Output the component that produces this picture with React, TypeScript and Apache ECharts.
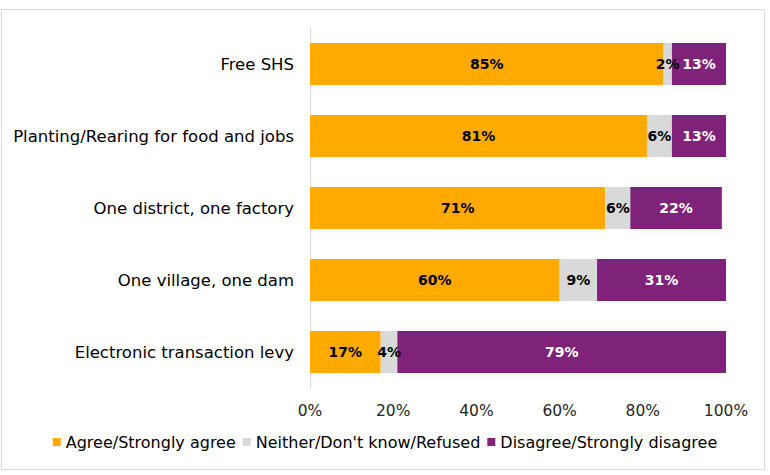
import React, { useEffect, useRef } from "react";
import * as echarts from "echarts";

const categories = [
  "Free SHS",
  "Planting/Rearing for food and jobs",
  "One district, one factory",
  "One village, one dam",
  "Electronic transaction levy",
];
const agree = [85, 81, 71, 60, 17];
const neither = [2, 6, 6, 9, 4];
const disagree = [13, 13, 22, 31, 79];
const seriesNames = [
  "Agree/Strongly agree",
  "Neither/Don't know/Refused",
  "Disagree/Strongly disagree",
];
const xTicks = [0, 20, 40, 60, 80, 100];

const FONT = "DejaVu Sans";

export default function App() {
  const ref = useRef<HTMLDivElement>(null);
  useEffect(() => {
    if (!ref.current) return;
    const chart = echarts.init(ref.current, undefined, { renderer: "svg" });
    const lbl = (color: string) => ({
      show: true,
      position: "inside" as const,
      formatter: "{c}%",
      color,
      fontFamily: FONT,
      fontWeight: "bold" as const,
      fontSize: 14,
    });
    const cols = ["#FFAA00", "#D9D9D9", "#7E2379"];
    const data = [agree, neither, disagree];
    chart.setOption({
      animation: false,
      textStyle: { fontFamily: FONT },
      graphic: [
        {
          type: "rect",
          shape: { x: 1.5, y: 9.5, width: 763, height: 460 },
          style: { fill: "none", stroke: "#D9D9D9", lineWidth: 1 },
        },
      ],
      grid: { left: 310, right: 44, top: 28, bottom: 87, containLabel: false },
      legend: {
        bottom: 20,
        left: "center",
        itemWidth: 8,
        itemHeight: 8,
        itemGap: 7,
        icon: "rect",
        textStyle: { fontFamily: FONT, fontSize: 16, color: "#000" },
        data: seriesNames,
      },
      xAxis: {
        type: "value",
        min: 0,
        max: 100,
        interval: 20,
        axisLine: { show: false },
        axisTick: { show: false },
        splitLine: { show: false },
        axisLabel: {
          formatter: (v: number) => (xTicks.includes(v) ? v + "%" : ""),
          fontFamily: FONT,
          fontSize: 15.5,
          color: "#262626",
          margin: 15,
        },
      },
      yAxis: {
        type: "category",
        inverse: true,
        data: categories,
        axisLine: { show: true, lineStyle: { color: "#D9D9D9" } },
        axisTick: { show: false },
        axisLabel: { fontFamily: FONT, fontSize: 16.5, color: "#000", margin: 16 },
      },
      series: seriesNames.map((name, i) => ({
        name,
        type: "bar",
        stack: "total",
        barWidth: 42,
        itemStyle: { color: cols[i] },
        label: lbl(i === 2 ? "#fff" : "#000"),
        data: data[i],
      })),
    });
    return () => chart.dispose();
  }, []);
  return (
    <div
      ref={ref}
      style={{ position: "fixed", left: 0, top: 0, width: 770, height: 475, background: "#fff" }}
    />
  );
}
